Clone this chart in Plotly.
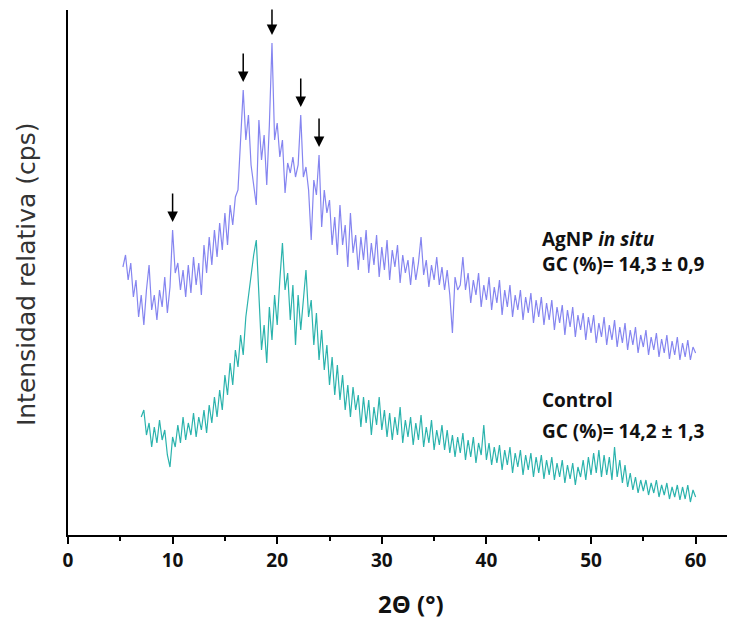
import plotly.graph_objects as go

# 2-theta scan grid (degrees)
agnp_start, step = 5.25, 0.25
ctrl_start = 7.0

# AgNP in situ intensity (relative units)
agnp_vals = [
    268, 280, 255, 272, 238, 255, 218, 240, 210, 245, 270, 225, 240, 215, 245, 228, 258, 222, 248,
    305, 262, 272, 245, 265, 238, 270, 242, 278, 250, 272, 240, 290, 262, 298, 270, 305, 278, 312,
    285, 322, 290, 330, 310, 338, 345, 400, 445, 395, 420, 370, 348, 330, 415, 375, 400, 350, 410,
    492, 395, 412, 378, 395, 342, 372, 362, 378, 358, 370, 420, 358, 368, 345, 295, 355, 340, 380,
    308, 345, 322, 335, 290, 318, 280, 330, 290, 310, 268, 322, 282, 300, 265, 298, 275, 305, 262,
    292, 270, 300, 258, 288, 265, 295, 255, 285, 268, 290, 252, 280, 262, 275, 250, 278, 255, 272,
    298, 260, 275, 248, 270, 255, 278, 250, 268, 245, 265, 240, 202, 258, 245, 250, 278, 245, 262,
    232, 255, 240, 262, 228, 250, 235, 258, 225, 248, 232, 255, 220, 245, 228, 250, 218, 240, 225,
    245, 215, 238, 222, 242, 212, 235, 218, 238, 210, 232, 215, 235, 205, 228, 212, 230, 200, 225,
    208, 228, 198, 220, 205, 222, 195, 218, 202, 220, 192, 212, 198, 218, 190, 210, 195, 215, 188,
    208, 192, 212, 185, 205, 190, 208, 182, 200, 188, 205, 180, 198, 185, 202, 178, 196, 182, 200,
    176, 194, 180, 198, 175, 192, 178, 195, 175, 188, 182,
]

# Control intensity (relative units)
ctrl_vals = [
    118, 125, 100, 112, 88, 108, 92, 115, 95, 105, 80, 68, 98, 88, 110, 92, 118, 95, 112, 100,
    122, 98, 118, 105, 125, 102, 130, 112, 138, 118, 145, 125, 160, 140, 172, 150, 185, 168, 200,
    180, 218, 240, 262, 280, 295, 245, 185, 210, 172, 228, 195, 240, 210, 255, 292, 245, 262, 215,
    250, 190, 240, 205, 232, 265, 218, 235, 190, 222, 175, 205, 165, 190, 150, 178, 140, 170, 135,
    160, 125, 150, 118, 148, 125, 140, 108, 138, 112, 135, 100, 128, 110, 138, 105, 125, 98, 122,
    95, 118, 100, 128, 92, 115, 98, 118, 90, 112, 95, 120, 88, 108, 92, 115, 85, 105, 90, 110, 85,
    105, 82, 100, 78, 98, 82, 102, 75, 95, 78, 98, 72, 92, 80, 110, 75, 92, 70, 88, 72, 90, 65, 85,
    70, 88, 62, 82, 68, 85, 60, 80, 65, 82, 58, 78, 62, 80, 56, 75, 60, 78, 55, 72, 58, 75, 52, 70,
    56, 72, 50, 68, 58, 75, 55, 78, 60, 82, 62, 85, 58, 80, 60, 78, 55, 88, 58, 75, 52, 70, 48, 62,
    45, 58, 42, 55, 44, 55, 40, 52, 42, 55, 38, 50, 40, 52, 36, 48, 38, 50, 35, 48, 36, 50, 33, 45,
    38,
]

agnp_x = [agnp_start + step * i for i in range(len(agnp_vals))]
ctrl_x = [ctrl_start + step * i for i in range(len(ctrl_vals))]

# peaks marked with arrows (2-theta)
arrow_peaks = [10.0, 16.75, 19.5, 22.25, 24.0]

x_ticks = [0, 10, 20, 30, 40, 50, 60]

PURPLE = "#8585f0"
TEAL = "#2bb3ad"

fig = go.Figure()
fig.add_trace(go.Scatter(x=agnp_x, y=agnp_vals, mode="lines",
                         line=dict(color=PURPLE, width=1.2), showlegend=False))
fig.add_trace(go.Scatter(x=ctrl_x, y=ctrl_vals, mode="lines",
                         line=dict(color=TEAL, width=1.2), showlegend=False))

for p in arrow_peaks:
    idx = min(range(len(agnp_x)), key=lambda i: abs(agnp_x[i] - p))
    fig.add_annotation(x=agnp_x[idx], y=agnp_vals[idx] + 8, xref="x", yref="y",
                       ax=0, ay=-30, showarrow=True, arrowhead=2, arrowsize=1.4,
                       arrowwidth=1.5, arrowcolor="black", text="")

lbl_font = dict(family="Open Sans, sans-serif", size=19, color="#111111", weight="bold")
fig.add_annotation(x=45.1, y=284, xref="x", yref="y", xanchor="left", yanchor="middle",
                   align="left", showarrow=False,
                   text="AgNP <i>in situ</i><br>GC (%)= 14,3 ± 0,9", font=lbl_font)
fig.add_annotation(x=45.1, y=135, xref="x", yref="y", xanchor="left", yanchor="middle",
                   showarrow=False, text="Control", font=lbl_font)
fig.add_annotation(x=45.1, y=104, xref="x", yref="y", xanchor="left", yanchor="middle",
                   showarrow=False, text="GC (%)= 14,2 ± 1,3", font=lbl_font)

# axis titles
fig.add_annotation(x=-0.0637, y=0.497, xref="paper", yref="paper", showarrow=False,
                   xanchor="center", yanchor="middle",
                   textangle=-90, text="Intensidad relativa (cps)",
                   font=dict(family="DejaVu Sans, sans-serif", size=25, color="#333333"))
fig.add_annotation(x=0.52, y=-0.131, xref="paper", yref="paper", showarrow=False,
                   xanchor="center", yanchor="middle",
                   text="2Θ (°)",
                   font=dict(family="Open Sans, sans-serif", size=24, color="#111111",
                             weight="bold"))

fig.update_xaxes(range=[0, 63], tickvals=x_ticks, ticks="outside", ticklen=7, tickwidth=2,
                 tickcolor="black", showline=True, linecolor="black", linewidth=2,
                 showgrid=False, zeroline=False,
                 minor=dict(dtick=5, ticks="outside", ticklen=4, tickwidth=2, tickcolor="black"),
                 tickfont=dict(family="Open Sans, sans-serif", size=19, color="#111111",
                               weight="bold"))
fig.update_yaxes(range=[0, 525], showticklabels=False, ticks="", showline=True,
                 linecolor="black", linewidth=2, showgrid=False, zeroline=False)

fig.update_layout(width=739, height=618, margin=dict(l=60, r=20, t=2, b=91),
                  plot_bgcolor="white", paper_bgcolor="white")

fig.write_html("out.html")
